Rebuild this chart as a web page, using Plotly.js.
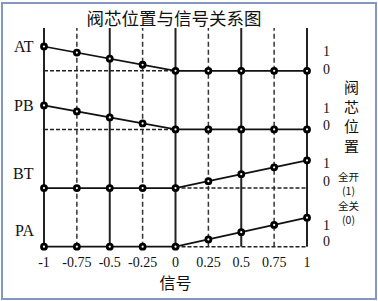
<!DOCTYPE html>
<html>
<head>
<meta charset="utf-8">
<script src="https://cdn.plot.ly/plotly-3.0.1.min.js"></script>
<style>
  html, body { margin: 0; padding: 0; background: #fff; }
  #wrap { position: relative; width: 378px; height: 301px; overflow: hidden; }
  #chart { position: absolute; left: 0; top: 0; width: 378px; height: 301px; }
  #frame { position: absolute; left: 1px; top: 2px; width: 372px; height: 294px;
           border: 2px solid #8397c0; pointer-events: none; }
</style>
</head>
<body>
<div id="wrap"><div id="chart"></div><div id="frame"></div></div>
<script>
// ---------------- data ----------------
const signal     = [-1, -0.75, -0.5, -0.25, 0, 0.25, 0.5, 0.75, 1];
const tickLabels = ["-1", "-0.75", "-0.5", "-0.25", "0", "0.25", "0.5", "0.75", "1"];
const channels   = ["AT", "PB", "BT", "PA"];
const valueAT    = [1, 0.75, 0.5, 0.25, 0, 0, 0, 0, 0];
const valuePB    = [1, 0.75, 0.5, 0.25, 0, 0, 0, 0, 0];
const valueBT    = [0, 0, 0, 0, 0, 0.25, 0.5, 0.75, 1];
const valuePA    = [0, 0, 0, 0, 0, 0.25, 0.5, 0.75, 1];
const levelLabels = ["1", "0"];
const stateLabels = ["全开", "(1)", "全关", "(0)"];
const chartTitle  = "阀芯位置与信号关系图";
const xTitle      = "信号";
const yTitle      = "阀芯位置";

// ---------------- layout helpers ----------------
const series = [valueAT, valuePB, valueBT, valuePA];
const PX = 58.63;                       // pixels per channel row
const rowBase = [3, 2, 1, 0];           // row offsets (top to bottom)
const rowAmpPx = [24.3, 24, 27.7, 29];  // drawn height of value 1 in each row
const leftLiftPx = [24.3, 24, 14.7, 16.7];
const oneLiftPx  = [19.3, 20.7, 24.4, 21.7];
const zeroLiftPx = [1, 3.7, 7, 5];
const gridTop = 3.73;
const INK = "#111";
const serif = "Liberation Serif, Times New Roman, serif";
const cjk = "Noto Sans CJK SC, sans-serif";
const plotBottom = 252, plotH = 232, plotLeft = 35, plotW = 281;
const pxX = p => (p - plotLeft) / plotW;
const pxY = p => (plotBottom - p) / plotH;

const traces = [];
const shapes = [];
const annotations = [];

// vertical grid lines
signal.forEach((s, i) => {
  const solid = i % 2 === 0;
  shapes.push({
    type: "line", xref: "x", yref: "y", layer: "below",
    x0: s, x1: s, y0: 0, y1: gridTop,
    line: { color: solid ? "#222" : "#333", width: solid ? 2 : 1.5, dash: solid ? "solid" : "5px,3px" }
  });
});

series.forEach((vals, r) => {
  const amp = rowAmpPx[r] / PX;
  const base = rowBase[r];
  // dashed baseline under the rising/falling section
  const nz = vals.map((v, i) => v !== 0 ? i : -1).filter(i => i >= 0);
  const lo = Math.max(0, Math.min(...nz) - 1);
  const hi = Math.min(vals.length - 1, Math.max(...nz) + 1);
  traces.push({
    x: [signal[lo], signal[hi]], y: [base, base],
    mode: "lines", line: { color: "#222", width: 1.5, dash: "4px,2px" },
    hoverinfo: "skip", showlegend: false
  });
  // the series itself
  traces.push({
    x: signal, y: vals.map(v => base + v * amp),
    mode: "lines+markers", name: channels[r],
    line: { color: INK, width: 1.7 },
    marker: { symbol: "circle", size: 5, color: "#fff", line: { color: "#000", width: 2.8 } },
    cliponaxis: false, showlegend: false
  });
  // left channel label
  annotations.push({
    xref: "paper", yref: "y", x: pxX(36), y: base + leftLiftPx[r] / PX,
    xanchor: "right", yanchor: "middle", text: channels[r], showarrow: false,
    font: { family: serif, size: 16, color: INK }
  });
  // right level labels
  annotations.push({
    xref: "paper", yref: "y", x: pxX(326.5), y: base + oneLiftPx[r] / PX,
    xanchor: "center", yanchor: "middle", text: levelLabels[0], showarrow: false,
    font: { family: serif, size: 14, color: INK }
  });
  annotations.push({
    xref: "paper", yref: "y", x: pxX(326.5), y: base + zeroLiftPx[r] / PX,
    xanchor: "center", yanchor: "middle", text: levelLabels[1], showarrow: false,
    font: { family: serif, size: 14, color: INK }
  });
});

// right vertical title, one character per line
annotations.push({
  xref: "paper", yref: "paper", x: pxX(351.5), y: pxY(115.5),
  xanchor: "center", yanchor: "middle", showarrow: false,
  text: yTitle.split("").join("<br>"),
  font: { family: cjk, size: 15, color: INK }
});
// state legend
const stateRows = [176.2, 190.7, 205.2, 219.7];
stateLabels.forEach((t, i) => {
  annotations.push({
    xref: "paper", yref: "paper", x: pxX(348.7), y: pxY(stateRows[i]),
    xanchor: "center", yanchor: "middle", showarrow: false, text: t,
    font: { family: cjk, size: 10.5, color: INK }, borderpad: 0
  });
});

const layout = {
  width: 378, height: 301,
  margin: { l: 35, r: 62, t: 20, b: 49, pad: 0 },
  paper_bgcolor: "#fff", plot_bgcolor: "#fff",
  showlegend: false,
  title: {
    text: chartTitle, xref: "container", yref: "container",
    x: 174 / 378, y: 1 - 19 / 301, xanchor: "center", yanchor: "middle",
    font: { family: cjk, size: 17.5, color: INK }
  },
  xaxis: {
    range: [-1.0684, 1.0684], showgrid: false, zeroline: false, showline: false,
    tickmode: "array", tickvals: signal, ticktext: tickLabels, ticks: "",
    tickfont: { family: serif, size: 14, color: INK },
    title: { text: xTitle, font: { family: cjk, size: 16, color: INK }, standoff: 4 },
    fixedrange: true
  },
  yaxis: {
    range: [-0.0904, 3.8666], showgrid: false, zeroline: false, showline: false,
    showticklabels: false, ticks: "", fixedrange: true
  },
  shapes: shapes,
  annotations: annotations
};

Plotly.newPlot("chart", traces, layout, { displayModeBar: false, staticPlot: true });
</script>
</body>
</html>
